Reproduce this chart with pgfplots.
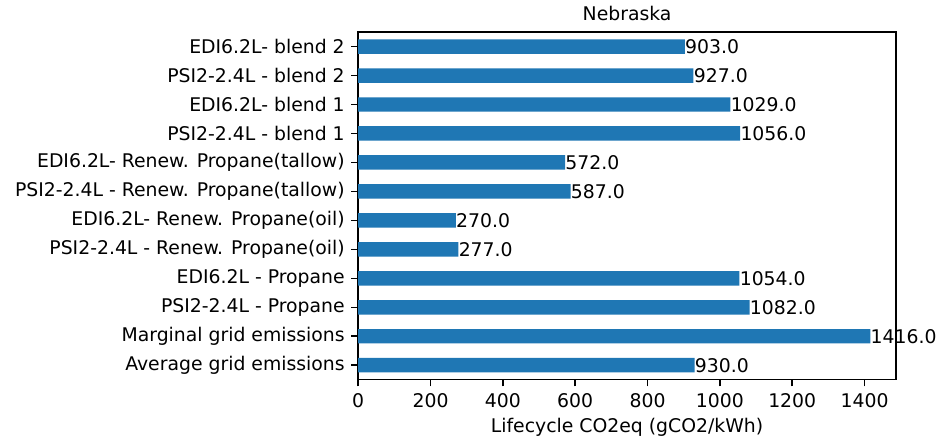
\documentclass[border=0pt]{standalone}
\usepackage{fontspec}
\setmainfont{DejaVu Sans}
\usepackage{pgfplots}
\pgfplotsset{compat=1.18}
\definecolor{tabblue}{HTML}{1F77B4}
\begin{document}
\begin{tikzpicture}
\begin{axis}[
  name=ax,
  scale only axis,
  width=280pt, height=181pt,
  xbar, bar width=0.5,
  xmin=0, xmax=1486.8,
  ymin=-0.5, ymax=11.5,
  ytick={0,...,11},
  yticklabels={Average grid emissions,Marginal grid emissions,PSI2-2.4L - Propane,EDI6.2L - Propane,PSI2-2.4L - Renew. Propane(oil),EDI6.2L- Renew. Propane(oil),PSI2-2.4L - Renew. Propane(tallow),EDI6.2L- Renew. Propane(tallow),PSI2-2.4L - blend 1,EDI6.2L- blend 1,PSI2-2.4L - blend 2,EDI6.2L- blend 2},
  xtick={0,200,...,1400},
  tick align=outside,
  major tick length=3.5pt,
  xtick pos=bottom, ytick pos=left,
  axis line style={line width=0.8pt},
  every tick/.style={line width=0.8pt, black},
  tick label style={font=\fontsize{9.8}{12}\selectfont},
  /pgf/number format/assume math mode=true,
  scaled x ticks=false,
  xticklabel style={/pgf/number format/1000 sep={}},
  xlabel={Lifecycle CO2eq (gCO2/kWh)},
  xlabel style={font=\fontsize{9.8}{12}\selectfont, yshift=1.5pt},
  title={Nebraska},
  title style={font=\fontsize{9.8}{12}\selectfont, yshift=-3.5pt},
  nodes near coords,
  nodes near coords style={anchor=west, inner xsep=0pt, font=\fontsize{9.8}{12}\selectfont,
    /pgf/number format/.cd, fixed, fixed zerofill, precision=1, 1000 sep={}},
]
\addplot[fill=tabblue, draw=none] coordinates {
(930,0) (1416,1) (1082,2) (1054,3) (277,4) (270,5) (587,6) (572,7) (1056,8) (1029,9) (927,10) (903,11)
};
\end{axis}
\pgfresetboundingbox
\path ([xshift=-186.5pt,yshift=-30.2pt]ax.south west) rectangle ([xshift=27.1pt,yshift=16.7pt]ax.north east);
\end{tikzpicture}
\end{document}
